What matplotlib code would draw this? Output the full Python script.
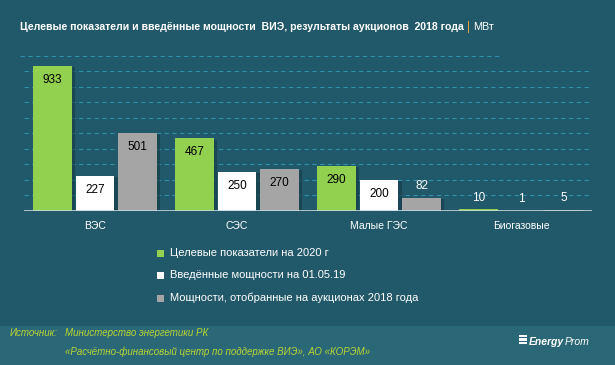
import numpy as np
import matplotlib
matplotlib.use("Agg")
from matplotlib import pyplot as plt
from matplotlib.patches import Rectangle
from matplotlib import font_manager

# data
categories = ["ВЭС", "СЭС", "Малые ГЭС", "Биогазовые"]
target_2020 = [933, 467, 290, 10]
installed = [227, 250, 200, 1]
auction_2018 = [501, 270, 82, 5]
series_names = ["Целевые показатели на 2020 г",
                "Введённые мощности на 01.05.19",
                "Мощности, отобранные на аукционах 2018 года"]

bg = "#22596a"
green = "#92d050"
white = "#ffffff"
gray = "#a5a5a5"

plt.rcParams['font.family'] = ['Liberation Sans', 'DejaVu Sans']
names = {f.name for f in font_manager.fontManager.ttflist}
narrow = ['Liberation Sans Narrow', 'DejaVu Sans'] if 'Liberation Sans Narrow' in names else ['Liberation Sans', 'DejaVu Sans']

fig = plt.figure(figsize=(6.15, 3.65), dpi=100)
fig.patch.set_facecolor(bg)
W, H = 615.0, 365.0
renderer = fig.canvas.get_renderer()

def right_edge(t):
    bb = t.get_window_extent(renderer=renderer)
    return bb.x1

# footer band
fig.patches.append(Rectangle((0, 0), 1, (H - 326) / H, transform=fig.transFigure,
                             facecolor="#2a6777", edgecolor="none", zorder=0))

# title
t = fig.text(20 / W, 1 - 27 / H, "Целевые показатели и введённые мощности  ВИЭ, результаты аукционов  2018 года",
             color="white", fontsize=7.6, fontweight="bold", va="center", ha="left")
x1 = right_edge(t)
t2 = fig.text((x1 + 3) / W, 1 - 27 / H, "|", color="#e0a040", fontsize=8.5, va="center", ha="left")
x2 = right_edge(t2)
fig.text((x2 + 3) / W, 1 - 27 / H, "МВт", color="white", fontsize=7.8, va="center", ha="left")
fig.add_artist(plt.Line2D([20 / W, 500 / W], [1 - 56 / H, 1 - 56 / H], transform=fig.transFigure,
                          color="#2e8fa8", lw=0.8, ls=(0, (4, 3))))

# axes
ax = fig.add_axes([24 / W, (H - 211) / H, 568 / W, 149 / H])
ax.set_facecolor(bg)
x = np.arange(len(categories))
width = 0.27
offsets = [-0.3, 0, 0.3]
colors = [green, white, gray]
all_series = [target_2020, installed, auction_2018]

ax.set_ylim(0, 958)
ax.set_xlim(-0.5, len(categories) - 0.5)

for s, (vals, off, c) in enumerate(zip(all_series, offsets, colors)):
    # soft shadow
    ax.bar(x + off + 0.025, vals, width, bottom=-8, color="#173f4b", alpha=0.7, zorder=2)
    ax.bar(x + off, vals, width, color=c, zorder=3, label=series_names[s])
    for xi, v in zip(x + off, vals):
        if v > 150:
            ax.annotate(str(v), (xi, v), xytext=(0, -10), textcoords="offset points",
                        ha="center", va="center", fontsize=8.5, color="black", zorder=4)
        else:
            ax.annotate(str(v), (xi, v), xytext=(0, 8.5), textcoords="offset points",
                        ha="center", va="center", fontsize=8.5, color="white", zorder=4)

for gy in range(100, 1000, 100):
    ax.axhline(gy, color="#2e8fa8", lw=0.8, ls=(0, (4, 3)), zorder=1)
ax.axhline(0, color="#c8d8dc", lw=1.2, zorder=5)

ax.set_xticks(x)
ax.set_xticklabels(categories, color="white", fontsize=7.5)
ax.tick_params(axis="x", length=0, pad=7)
ax.set_yticks([])
for sp in ax.spines.values():
    sp.set_visible(False)

# legend
for i, (name, c) in enumerate(zip(series_names, colors)):
    yy = 1 - (253 + i * 22.5) / H
    fig.patches.append(Rectangle((157 / W, yy - 3.5 / H), 7 / W, 7 / H, transform=fig.transFigure,
                                 facecolor=c, edgecolor="none"))
    fig.text(170 / W, yy, name, color="white", fontsize=8, va="center", ha="left")

# footer
src_color = "#b9d532"
fig.text(10 / W, 1 - 333 / H, "Источник:", color=src_color,
         fontsize=7, style="italic", va="center", ha="left", family=narrow)
fig.text(65 / W, 1 - 333 / H, "Министерство энергетики РК", color=src_color,
         fontsize=7, style="italic", va="center", ha="left", family=narrow)
fig.text(65 / W, 1 - 352 / H, "«Расчётно-финансовый центр по поддержке ВИЭ», АО «КОРЭМ»", color=src_color,
         fontsize=7, style="italic", va="center", ha="left", family=narrow)

# logo
for k in range(3):
    fig.patches.append(Rectangle((519 / W, 1 - (337 + k * 3.5) / H), 8 / W, 2.2 / H,
                                 transform=fig.transFigure, facecolor="white", edgecolor="none"))
e = fig.text(529 / W, 1 - 342 / H, "Energy", color="white", fontsize=7.5, fontweight="bold",
             style="italic", va="center", ha="left", family=narrow)
fig.text((right_edge(e) + 0.5) / W, 1 - 342 / H, "Prom", color="white", fontsize=7.5,
         style="italic", va="center", ha="left", family=narrow)

plt.savefig("out.png", dpi=100, facecolor=fig.get_facecolor())
